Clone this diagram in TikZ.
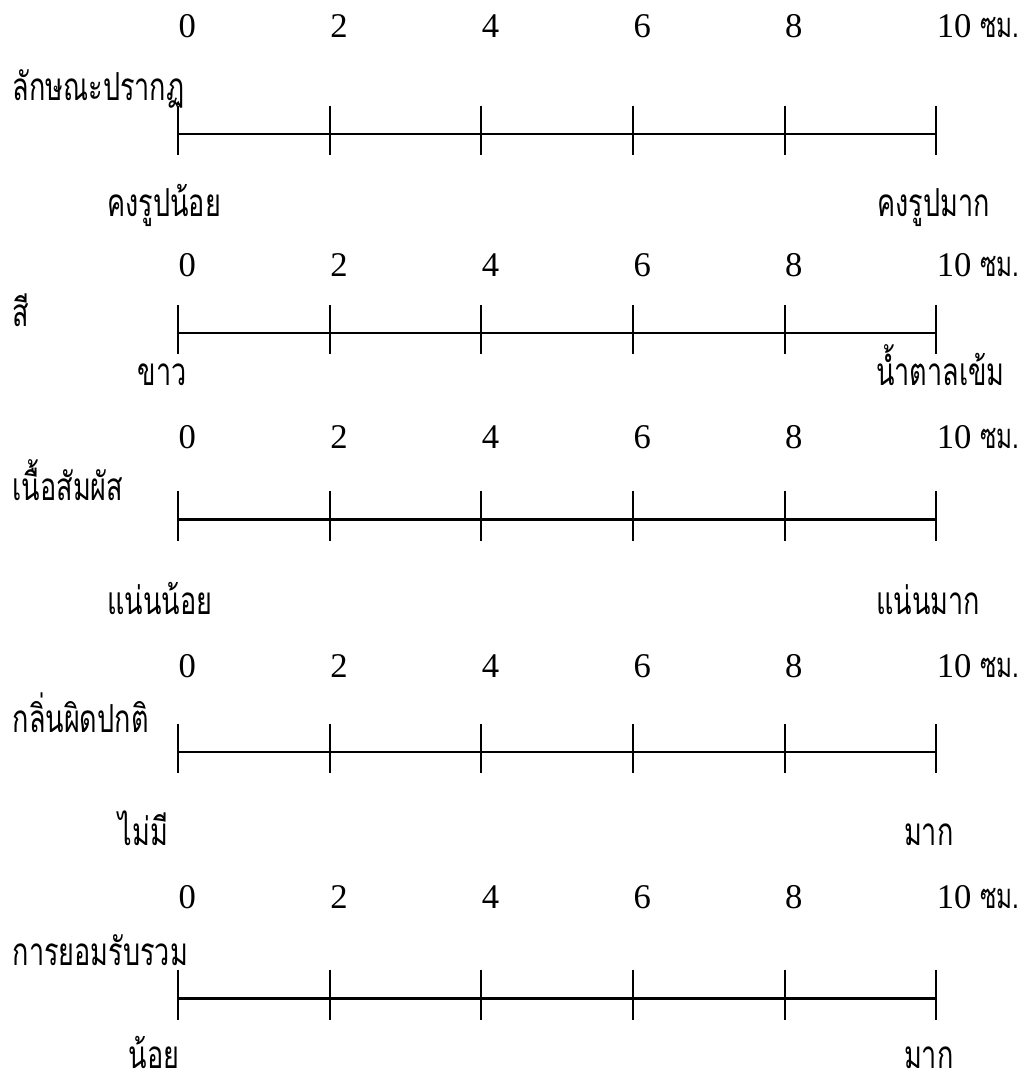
\documentclass[tikz,border=0pt]{standalone}
\usepackage{fontspec}
\setmainfont{Liberation Serif}
\newfontfamily\thaifont[Script=Thai, FakeStretch=0.7]{Loma}
\usepackage{tikz}
\usetikzlibrary{calc}

\begin{document}
\begin{tikzpicture}[
    numlabel/.style={anchor=base west, inner sep=0pt,
        font=\fontsize{13}{15}\selectfont},
    thailabel/.style={anchor=base west, inner sep=0pt, text depth=0pt,
        font=\thaifont\fontsize{14.5}{17}\selectfont},
    scaleline/.style={line width=0.9pt},
    tickmark/.style={line width=0.8pt},
]
\useasboundingbox (-2.35,0) rectangle (11.12,-14.22);

% Scales – line, ticks and numbers (0 to 10 cm)
\foreach \r/\ly/\ny in {1/-1.77/-0.50, 2/-4.39/-3.65, 3/-6.85/-5.91,
                        4/-9.92/-8.94, 5/-13.17/-11.98}{
    \coordinate (r\r)     at (0,\ly);
    \coordinate (r\r-end) at (10,\ly);
    \draw[scaleline] (r\r) -- (r\r-end);
    \foreach \t in {0,2,...,10}{
        \draw[tickmark] ($(r\r)+(\t,0.37)$) -- ++(0,-0.65);
    }
    \foreach \t in {0,2,...,8}{
        \node[numlabel] (n\r-\t) at (\t,\ny) {\t};
    }
    \node[numlabel] (n\r-10) at (10,\ny) {10\ {\thaifont ซม.}};
}

% Row 1 – appearance
\node[thailabel] (title1) at (-2.19,-1.32) {ลักษณะปรากฏ};
\node[thailabel] (low1)   at (-0.94,-2.86) {คงรูปน้อย};
\node[thailabel] (high1)  at ( 9.22,-2.86) {คงรูปมาก};

% Row 2 – colour
\node[thailabel] (title2) at (-2.19,-4.31) {สี};
\node[thailabel] (low2)   at (-0.54,-5.08) {ขาว};
\node[thailabel] (high2)  at ( 9.20,-5.08) {น้ำตาลเข้ม};

% Row 3 – texture
\node[thailabel] (title3) at (-2.19,-6.60) {เนื้อสัมผัส};
\node[thailabel] (low3)   at (-0.94,-8.11) {แน่นน้อย};
\node[thailabel] (high3)  at ( 9.20,-8.11) {แน่นมาก};

% Row 4 – off-odour
\node[thailabel] (title4) at (-2.19,-9.66) {กลิ่นผิดปกติ};
\node[thailabel] (low4)   at (-0.79,-11.15) {ไม่มี};
\node[thailabel] (high4)  at ( 9.57,-11.15) {มาก};

% Row 5 – overall acceptance
\node[thailabel] (title5) at (-2.19,-12.73) {การยอมรับรวม};
\node[thailabel] (low5)   at (-0.66,-14.10) {น้อย};
\node[thailabel] (high5)  at ( 9.57,-14.10) {มาก};

\end{tikzpicture}
\end{document}
